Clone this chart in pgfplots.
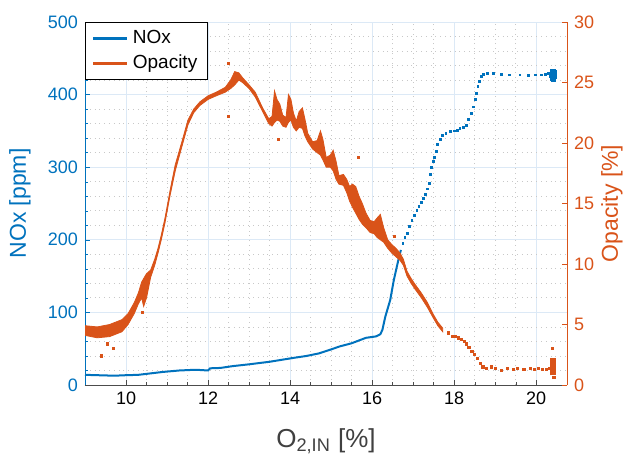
\documentclass[border=0pt]{standalone}
\usepackage{fontspec}
\setmainfont{Liberation Sans}
\usepackage{pgfplots}
\pgfplotsset{compat=1.18}
\definecolor{mblue}{RGB}{0,114,189}
\definecolor{morange}{RGB}{217,83,25}
\definecolor{gridmaj}{RGB}{220,233,246}
\definecolor{gridmin}{RGB}{200,200,200}

\begin{document}
\begin{tikzpicture}
\pgfplotsset{
  every axis/.append style={
    scale only axis, width=241pt, height=181.5pt,
    xmin=9, xmax=20.75,
    /pgf/number format/assume math mode=true,
    tick label style={font=\fontsize{9}{10}\selectfont},
    tick align=inside,
    major tick length=2.5pt, minor tick length=1.5pt,
  }
}

% left axis: NOx
\begin{axis}[
  name=ax1,
  axis x line*=bottom, axis y line*=left,
  ymin=0, ymax=500, ytick={0,100,...,500},
  xtick={10,12,...,20}, minor x tick num=3, minor y tick num=4,
  grid=both,
  major grid style={gridmaj, line width=0.5pt},
  minor grid style={gridmin, dotted, line width=0.4pt},
  x axis line style={black!70, -},
  y axis line style={mblue, -},
  xtick style={black!70}, ytick style={mblue},
  yticklabel style={mblue},
  every axis y label/.style={at={(axis description cs:-0.135,0.5)}, rotate=90, anchor=center,
    mblue, font=\fontsize{11.5}{12}\selectfont},
  every axis x label/.style={at={(axis description cs:0.5,-0.155)}, anchor=center,
    black!75, font=\fontsize{13}{14}\selectfont},
  ylabel={NOx [ppm]},
  xlabel={O\textsubscript{2,IN} [\%]},
]
% dense part of the NOx trace
\addplot[mblue, line width=1pt] coordinates {
  (9.0,14) (9.3,13.5) (9.6,13) (9.8,13) (10.0,13.5) (10.3,14) (10.6,16) (10.9,18)
  (11.3,20) (11.7,21) (12.0,20) (12.05,23) (12.3,23.5) (12.6,26) (13.0,28.5)
  (13.5,32) (14.1,37.5) (14.4,40) (14.7,43.5) (15.0,49) (15.2,53) (15.5,57.5)
  (15.85,65) (16.1,67) (16.2,70) (16.25,76) (16.32,94) (16.44,117) (16.53,145)
  (16.63,170) (16.7,186)
};
% sparse samples above 16.7 %
\addplot[mblue, only marks, mark=square*, mark size=0.45pt] coordinates {
  (16.75,195) (16.8,203) (16.85,209) (16.91,218) (16.97,227) (17.03,234) (17.09,240)
  (17.14,246) (17.2,252) (17.25,257) (17.3,262) (17.35,270) (17.39,278) (17.42,290)
  (17.45,300) (17.49,308) (17.52,314) (17.56,322) (17.6,331) (17.66,338) (17.72,344)
  (17.8,347) (17.9,349) (18.0,350) (18.07,351) (18.14,353) (18.22,355) (18.29,358)
  (18.35,366) (18.41,374) (18.46,383) (18.51,393) (18.55,402) (18.58,411) (18.62,418)
  (18.66,425) (18.72,428) (18.8,429) (18.95,429) (19.15,428) (19.35,427) (19.6,427)
  (19.8,426) (19.98,427) (20.12,427) (20.22,428) (20.3,429)
};
\addplot[mblue, only marks, mark=square*, mark size=1.2pt] coordinates {
  (20.38,427) (20.4,423) (20.4,431) (20.43,426) (20.44,430) (20.42,421)
};
\end{axis}

% right axis: opacity
\begin{axis}[
  axis y line*=right, axis x line=none,
  ymin=0, ymax=30, ytick={0,5,...,30},
  y axis line style={morange, -}, ytick style={morange},
  yticklabel style={morange},
  every axis y label/.style={at={(axis description cs:1.093,0.5)}, rotate=90, anchor=center,
    morange, font=\fontsize{11.5}{12}\selectfont},
  ylabel={Opacity [\%]},
  legend style={at={(0,1)}, anchor=north west, draw=black, fill=white,
    font=\fontsize{9.5}{11}\selectfont, line width=0.5pt},
  legend cell align=left,
]
\addlegendimage{mblue, line width=1.6pt}
\addlegendentry{NOx}
\addlegendimage{morange, line width=1.6pt}
\addlegendentry{Opacity}
% envelope of the dense opacity scatter
\addplot[fill=morange, draw=morange, line width=0.4pt, forget plot] coordinates {
  (9.0,4.9)(9.3,4.8)(9.6,5.0)(9.9,5.4)(10.05,5.9)(10.2,6.8)(10.3,7.6)(10.38,8.5)
  (10.43,8.8)(10.5,9.2)(10.6,9.5)(10.7,10.4)(10.78,11.3)(10.86,12.4)(10.95,13.8)
  (11.07,16.0)(11.2,18.2)(11.37,20.2)(11.51,21.9)(11.65,22.8)(11.8,23.4)(12.0,23.9)
  (12.2,24.2)(12.42,24.6)(12.55,25.2)(12.65,25.9)(12.75,25.8)(12.84,25.4)(13.0,24.8)
  (13.15,24.2)(13.33,22.9)(13.48,22.0)(13.56,22.2)(13.62,24.3)(13.68,23.6)(13.75,23.2)
  (13.82,22.3)(13.9,22.1)(13.96,24.0)(14.02,23.6)(14.08,22.5)(14.15,21.8)(14.22,22.6)
  (14.3,22.9)(14.36,22.0)(14.43,20.8)(14.55,20.1)(14.66,20.2)(14.74,21.0)(14.8,20.3)
  (14.88,18.8)(14.98,19.0)(15.05,19.4)(15.12,18.5)(15.19,17.3)(15.3,17.4)(15.38,17.0)
  (15.45,16.4)(15.52,16.6)(15.6,16.4)(15.68,15.6)(15.76,15.0)(15.85,14.2)(15.95,13.6)
  (16.05,13.5)(16.12,13.8)(16.2,14.1)(16.28,13.0)(16.38,12.0)(16.48,11.6)(16.58,11.3)
  (16.68,10.9)(16.76,10.4)(16.85,9.4)(16.95,8.8)(17.05,8.3)(17.2,7.6)(17.35,6.8)
  (17.48,5.9)(17.6,5.2)(17.72,4.7)
  (17.72,4.4)(17.6,4.9)(17.48,5.6)(17.35,6.4)(17.2,7.2)(17.05,7.9)(16.95,8.4)(16.85,9.0)
  (16.76,9.9)(16.68,10.3)(16.58,10.6)(16.48,10.9)(16.38,11.3)(16.28,11.8)(16.2,12.0)
  (16.12,12.2)(16.05,12.5)(15.95,12.6)(15.85,13.0)(15.76,13.3)(15.68,13.7)(15.6,14.2)
  (15.52,14.7)(15.45,15.2)(15.38,15.9)(15.3,16.5)(15.19,16.6)(15.12,17.0)(15.05,17.7)
  (14.98,18.0)(14.88,18.0)(14.8,18.6)(14.74,19.0)(14.66,19.2)(14.55,19.5)(14.43,20.1)
  (14.36,20.6)(14.3,21.2)(14.22,21.3)(14.15,21.0)(14.08,21.3)(14.02,21.9)(13.96,21.7)
  (13.9,21.3)(13.82,21.4)(13.75,21.8)(13.68,21.9)(13.62,21.7)(13.56,21.4)(13.48,21.6)
  (13.33,22.6)(13.15,23.8)(13.0,24.5)(12.84,25.0)(12.75,25.2)(12.65,24.8)(12.55,24.5)
  (12.42,24.2)(12.2,23.9)(12.0,23.6)(11.8,23.1)(11.65,22.5)(11.51,21.5)(11.37,19.8)
  (11.2,17.7)(11.07,15.6)(10.95,13.4)(10.86,12.0)(10.78,10.9)(10.7,9.9)(10.6,8.9)
  (10.5,7.2)(10.43,6.5)(10.38,7.2)(10.3,6.7)(10.2,5.9)(10.05,5.0)(9.9,4.4)(9.6,4.0)
  (9.3,3.9)(9.0,4.1)
} -- cycle;
% sparse samples and outliers
\addplot[morange, only marks, mark=square*, mark size=0.55pt, forget plot] coordinates {
  (17.85,4.3)(17.95,4.0)(18.02,4.0)(18.1,3.9)(18.18,3.8)(18.24,3.6)(18.3,3.4)
  (18.36,3.1)(18.43,2.8)(18.5,2.5)(18.56,2.2)(18.63,1.8)(18.7,1.5)(18.78,1.4)
  (18.9,1.5)(19.0,1.4)(19.15,1.2)(19.3,1.4)(19.45,1.3)(19.55,1.4)(19.7,1.3)
  (19.85,1.4)(19.95,1.3)(20.05,1.35)(20.15,1.3)(20.25,1.3)(20.32,1.4)
  (9.4,2.4)(9.7,3.0)(9.55,3.4)(10.4,6.0)(12.5,26.6)(12.5,22.2)(13.72,20.3)
  (15.66,18.8)(16.55,12.3)(20.4,3.0)(20.43,0.6)
};
\addplot[morange, line width=3pt, forget plot] coordinates {(20.42,0.8) (20.42,2.2)};
\end{axis}

\pgfresetboundingbox
\path[use as bounding box] ([shift={(-42.5pt,-34.5pt)}]ax1.south west)
  rectangle ([shift={(31.5pt,11pt)}]ax1.north east);
\end{tikzpicture}
\end{document}
